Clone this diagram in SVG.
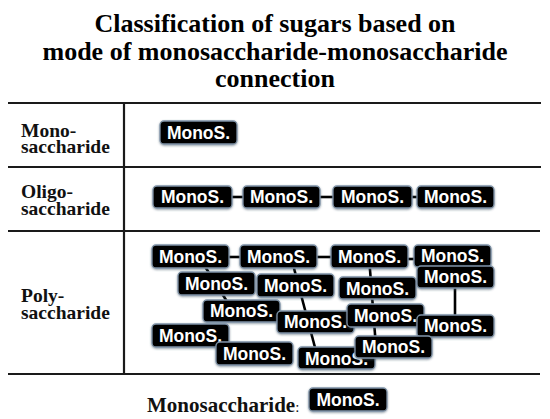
<svg xmlns="http://www.w3.org/2000/svg" width="550" height="419" viewBox="0 0 550 419">
<defs>
<filter id="sh" x="-20%" y="-30%" width="140%" height="160%">
<feDropShadow dx="0" dy="1" stdDeviation="1" flood-color="#3d5166" flood-opacity="0.6"/>
</filter>
</defs>
<style>
.hd{font-family:"Liberation Serif","Times New Roman",serif;font-weight:bold;font-size:26px;fill:#000;text-anchor:middle}
.rl{font-family:"Liberation Serif","Times New Roman",serif;font-weight:bold;font-size:19.5px;fill:#111}
.tl{stroke:#1a1a1a;stroke-width:2.2;fill:none}
.box{fill:#000;stroke:#7f93a8;stroke-width:1.3;filter:url(#sh)}
.lbl{font-family:"Liberation Sans",Arial,sans-serif;font-weight:bold;font-size:17.5px;fill:#fff;text-anchor:middle}
.cn{stroke:#000;stroke-width:2.6;fill:none}
</style>
<rect width="550" height="419" fill="#fff"/>
<g id="title">
<text class="hd" x="275" y="32">Classification of sugars based on</text>
<text class="hd" x="275" y="60">mode of monosaccharide-monosaccharide</text>
<text class="hd" x="275" y="87">connection</text>
</g>
<g id="table">
<line class="tl" x1="8" y1="103" x2="541" y2="103"/>
<line class="tl" x1="8" y1="167" x2="541" y2="167"/>
<line class="tl" x1="8" y1="231" x2="540" y2="231"/>
<line class="tl" x1="8" y1="374" x2="540" y2="374"/>
<line class="tl" x1="124" y1="103" x2="124" y2="374"/>
<text class="rl" x="21" y="137">Mono-</text>
<text class="rl" x="21" y="153">saccharide</text>
<text class="rl" x="21" y="198">Oligo-</text>
<text class="rl" x="21" y="215">saccharide</text>
<text class="rl" x="21" y="302">Poly-</text>
<text class="rl" x="21" y="319">saccharide</text>
</g>
<g id="connectors">
<line class="cn" x1="232" y1="197" x2="243" y2="197"/>
<line class="cn" x1="320" y1="197" x2="333" y2="197"/>
<line class="cn" x1="412" y1="197" x2="417" y2="197"/>
<line class="cn" x1="229" y1="257" x2="240" y2="257"/>
<line class="cn" x1="317" y1="257" x2="331" y2="257"/>
<line class="cn" x1="408" y1="259" x2="414" y2="259"/>
<line class="cn" x1="199" y1="257" x2="233" y2="311"/>
<line class="cn" x1="291" y1="257" x2="317" y2="355"/>
<line class="cn" x1="369" y1="257" x2="376" y2="347"/>
<line class="cn" x1="455" y1="278" x2="455" y2="326"/>
</g>
<g id="mono1" transform="translate(160,121)"><rect class="box" width="77" height="23" rx="4"/><text class="lbl" x="38.5" y="17.5">MonoS.</text></g>
<g id="oligo1" transform="translate(153,186)"><rect class="box" width="79" height="22" rx="4"/><text class="lbl" x="39.5" y="17">MonoS.</text></g>
<g id="oligo2" transform="translate(243,186)"><rect class="box" width="77" height="22" rx="4"/><text class="lbl" x="38.5" y="17">MonoS.</text></g>
<g id="oligo3" transform="translate(333,186)"><rect class="box" width="79" height="22" rx="4"/><text class="lbl" x="39.5" y="17">MonoS.</text></g>
<g id="oligo4" transform="translate(417,186)"><rect class="box" width="77" height="22" rx="4"/><text class="lbl" x="38.5" y="17">MonoS.</text></g>
<g id="polyA" transform="translate(152,245)"><rect class="box" width="77" height="23" rx="4"/><text class="lbl" x="38.5" y="17.5">MonoS.</text></g>
<g id="polyB" transform="translate(240,245)"><rect class="box" width="77" height="23" rx="4"/><text class="lbl" x="38.5" y="17.5">MonoS.</text></g>
<g id="polyC" transform="translate(331,245)"><rect class="box" width="77" height="23" rx="4"/><text class="lbl" x="38.5" y="17.5">MonoS.</text></g>
<g id="polyD" transform="translate(414,245)"><rect class="box" width="77" height="22" rx="4"/><text class="lbl" x="38.5" y="17">MonoS.</text></g>
<g id="polyE" transform="translate(417,266)"><rect class="box" width="77" height="22" rx="4"/><text class="lbl" x="38.5" y="17">MonoS.</text></g>
<g id="polyF" transform="translate(178,272)"><rect class="box" width="77" height="23" rx="4"/><text class="lbl" x="38.5" y="17.5">MonoS.</text></g>
<g id="polyG" transform="translate(257,274)"><rect class="box" width="77" height="23" rx="4"/><text class="lbl" x="38.5" y="17.5">MonoS.</text></g>
<g id="polyH" transform="translate(339,277)"><rect class="box" width="77" height="22" rx="4"/><text class="lbl" x="38.5" y="17.5">MonoS.</text></g>
<g id="polyI" transform="translate(203,300)"><rect class="box" width="77" height="22" rx="4"/><text class="lbl" x="38.5" y="17">MonoS.</text></g>
<g id="polyJ" transform="translate(277,311)"><rect class="box" width="77" height="22" rx="4"/><text class="lbl" x="38.5" y="17">MonoS.</text></g>
<g id="polyL" transform="translate(347,304)"><rect class="box" width="77" height="23" rx="4"/><text class="lbl" x="38.5" y="17.5">MonoS.</text></g>
<g id="polyN" transform="translate(417,315)"><rect class="box" width="77" height="22" rx="4"/><text class="lbl" x="38.5" y="17">MonoS.</text></g>
<g id="polyO" transform="translate(152,324)"><rect class="box" width="77" height="23" rx="4"/><text class="lbl" x="38.5" y="17.5">MonoS.</text></g>
<g id="polyP" transform="translate(216,342)"><rect class="box" width="77" height="23" rx="4"/><text class="lbl" x="38.5" y="17.5">MonoS.</text></g>
<g id="polyK" transform="translate(298,347)"><rect class="box" width="77" height="22" rx="4"/><text class="lbl" x="38.5" y="17.5">MonoS.</text></g>
<g id="polyM" transform="translate(355,336)"><rect class="box" width="77" height="22" rx="4"/><text class="lbl" x="38.5" y="17">MonoS.</text></g>
<g id="legend">
<text class="rl" x="147" y="412" style="font-size:21px">Monosaccharide<tspan style="font-size:15px;font-weight:normal">:</tspan></text>
<g id="legendBox" transform="translate(309,388)"><rect class="box" width="78" height="23" rx="4"/><text class="lbl" x="39" y="17.5">MonoS.</text></g>
</g>
</svg>
